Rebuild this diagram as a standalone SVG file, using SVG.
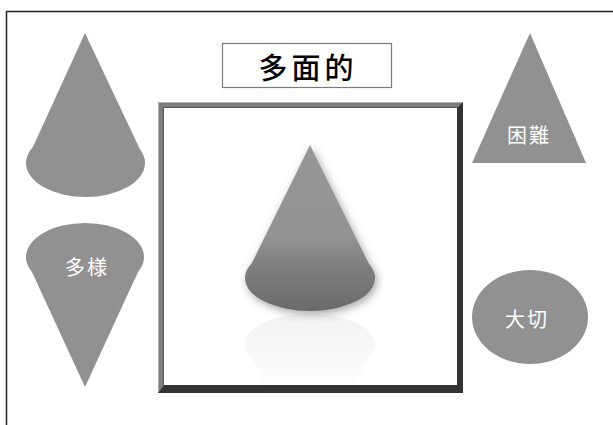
<svg xmlns="http://www.w3.org/2000/svg" width="613" height="425" viewBox="0 0 613 425">
  <style>
    .shape { fill: #919191; }
    .lbl { fill: #ffffff; font-family: "Noto Sans CJK JP", "Noto Sans CJK SC", sans-serif; font-size: 20px; letter-spacing: 2px; text-anchor: middle; dominant-baseline: central; }
    .title { fill: #000000; font-family: "Noto Sans CJK JP", "Noto Sans CJK SC", sans-serif; font-size: 29px; font-weight: 500; letter-spacing: 4px; text-anchor: middle; dominant-baseline: central; }
  </style>
  <defs>
    <linearGradient id="coneGrad" gradientUnits="userSpaceOnUse" x1="0" y1="145" x2="0" y2="311">
      <stop offset="0" stop-color="#979797"/>
      <stop offset="0.55" stop-color="#939393"/>
      <stop offset="0.72" stop-color="#808080"/>
      <stop offset="1" stop-color="#6a6a6a"/>
    </linearGradient>
    <linearGradient id="reflGrad" gradientUnits="userSpaceOnUse" x1="0" y1="314" x2="0" y2="384">
      <stop offset="0" stop-color="#efefef"/>
      <stop offset="1" stop-color="#fdfdfd"/>
    </linearGradient>
    <filter id="shadow" x="-30%" y="-30%" width="160%" height="160%">
      <feDropShadow dx="2" dy="3" stdDeviation="4" flood-color="#000" flood-opacity="0.35"/>
    </filter>
    <clipPath id="innerClip">
      <rect x="164" y="108" width="293" height="277"/>
    </clipPath>
  </defs>

  <rect x="0" y="0" width="613" height="425" fill="#ffffff"/>
  <path d="M6.5,425 V11.5 H613" fill="none" stroke="#222222" stroke-width="1.5"/>

  <g id="title">
    <rect x="222.5" y="43.5" width="169" height="44" fill="#ffffff" stroke="#7a7a7a" stroke-width="1.2"/>
    <text class="title" x="308" y="66">多面的</text>
  </g>

  <g id="center-frame">
    <rect x="158" y="102" width="305" height="291" fill="#333333"/>
    <polygon points="158,102 463,102 457,108 164,108 164,385 158,393" fill="#7e7e7e"/>
    <polyline points="158.5,392 158.5,102.5 462.5,102.5" fill="none" stroke="#b0b0b0" stroke-width="1"/>
    <polyline points="163.5,385 163.5,107.5 457,107.5" fill="none" stroke="#555555" stroke-width="1"/>
    <rect x="164" y="108" width="293" height="277" fill="#ffffff"/>
    <g clip-path="url(#innerClip)">
      <g opacity="0.75">
        <polygon points="310,477 245,344 375,344" fill="url(#reflGrad)"/>
        <ellipse cx="310" cy="344" rx="65" ry="30" fill="url(#reflGrad)"/>
      </g>
    </g>
    <g id="center-cone" filter="url(#shadow)">
      <path d="M310,145 L246,275 A65,33 0 0 0 375,276 Z" fill="url(#coneGrad)"/>
      <ellipse cx="310" cy="278" rx="65" ry="33" fill="url(#coneGrad)"/>
    </g>
  </g>

  <g id="cone-top-left">
    <polygon class="shape" points="85,33 27,160 145,160"/>
    <ellipse class="shape" cx="85.5" cy="163" rx="59.5" ry="34"/>
  </g>

  <g id="cone-tasama">
    <ellipse class="shape" cx="85" cy="257" rx="59" ry="34"/>
    <polygon class="shape" points="26,259 144,259 85,387"/>
    <text class="lbl" x="87" y="266">多様</text>
  </g>

  <g id="triangle-konnan">
    <polygon class="shape" points="530,33 472,163 586,163"/>
    <text class="lbl" x="529" y="134">困難</text>
  </g>

  <g id="ellipse-taisetsu">
    <ellipse class="shape" cx="530" cy="317" rx="58" ry="47"/>
    <text class="lbl" x="527" y="318">大切</text>
  </g>
</svg>
